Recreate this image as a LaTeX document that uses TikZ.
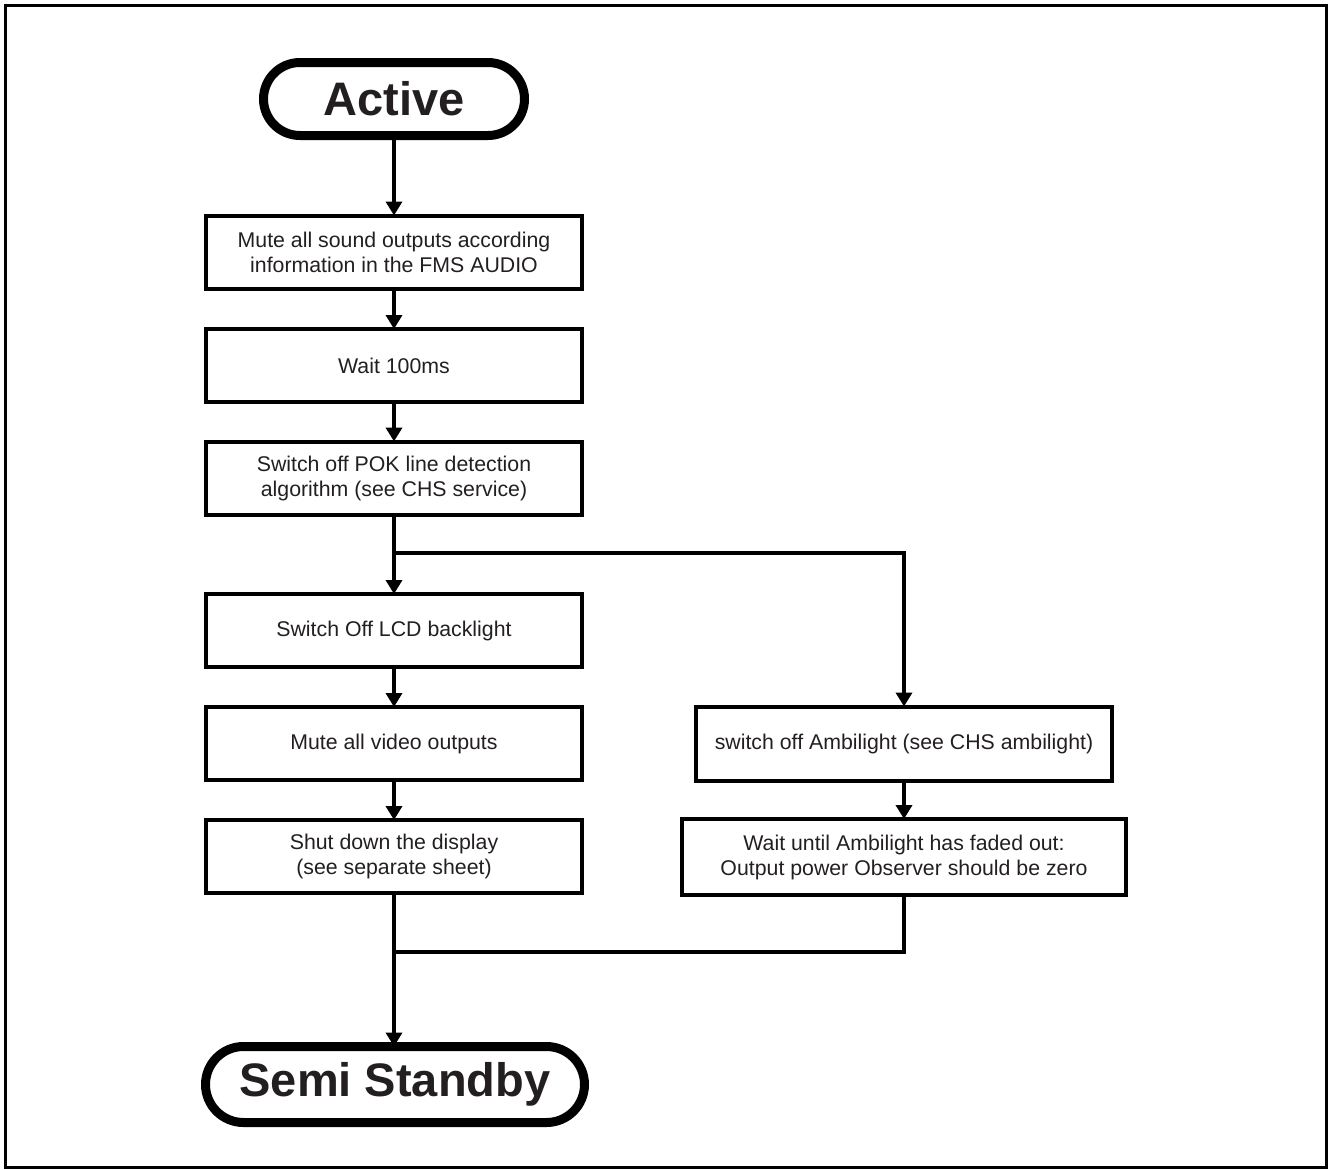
\documentclass[tikz,border=0pt]{standalone}
\usepackage{fontspec}
\setmainfont{Liberation Sans}
\usetikzlibrary{arrows.meta}
\definecolor{ink}{HTML}{231F20}
\begin{document}
\begin{tikzpicture}[x=1pt,y=-1pt,
  every node/.style={inner sep=0pt, outer sep=0pt, text=ink},
  stepbox/.style={draw=black, line width=4pt, rectangle, align=center,
    font=\fontsize{21.3}{25}\selectfont},
  terminal/.style={draw=black, line width=9pt, rectangle, font=\bfseries\fontsize{47}{52}\selectfont},
  flow/.style={draw=black, line width=4.5pt},
  arr/.style={flow, -{Triangle[length=14pt,width=16pt]}}
]
\useasboundingbox (0,0) rectangle (1328,1170);
\draw[line width=3pt] (5.5,5.5) rectangle (1326.5,1167.5);

\node[terminal, minimum width=261pt, minimum height=73pt, rounded corners=36.5pt] (active) at (394,99) {Active};
\node[stepbox, minimum width=376pt, minimum height=73pt] (b1) at (394,252) {Mute all sound outputs according\\information in the FMS AUDIO};
\node[stepbox, minimum width=376pt, minimum height=73pt] (b2) at (394,365.5) {Wait 100ms};
\node[stepbox, minimum width=376pt, minimum height=73pt] (b3) at (394,478) {Switch off POK line detection\\algorithm (see CHS service)};
\node[stepbox, minimum width=376pt, minimum height=73pt] (b4) at (394,630.5) {Switch Off LCD backlight};
\node[stepbox, minimum width=376pt, minimum height=73pt] (b5) at (394,743.5) {Mute all video outputs};
\node[stepbox, minimum width=376pt, minimum height=73pt] (b6) at (394,856.5) {Shut down the display\\(see separate sheet)};
\node[stepbox, minimum width=416pt, minimum height=74pt] (ra) at (904,743.5) {switch off Ambilight (see CHS ambilight)};
\node[stepbox, minimum width=444pt, minimum height=76pt] (rb) at (904,857) {Wait until Ambilight has faded out:\\Output power Observer should be zero};
\node[terminal, minimum width=379pt, minimum height=76pt, rounded corners=38pt] (semi) at (395,1084.5) {Semi Standby};

\coordinate (j1) at (394,553);
\coordinate (j2) at (394,952);

\draw[arr] (active) -- (b1);
\draw[arr] (b1) -- (b2);
\draw[arr] (b2) -- (b3);
\draw[arr] (b3) -- (b4);
\draw[arr] (b4) -- (b5);
\draw[arr] (b5) -- (b6);
\draw[arr] (j1) -| (ra.north);
\draw[arr] (ra) -- (rb);
\draw[arr] (b6.south) -- (b6.south |- semi.north);
\draw[flow] (rb.south) |- (j2);
\end{tikzpicture}
\end{document}
